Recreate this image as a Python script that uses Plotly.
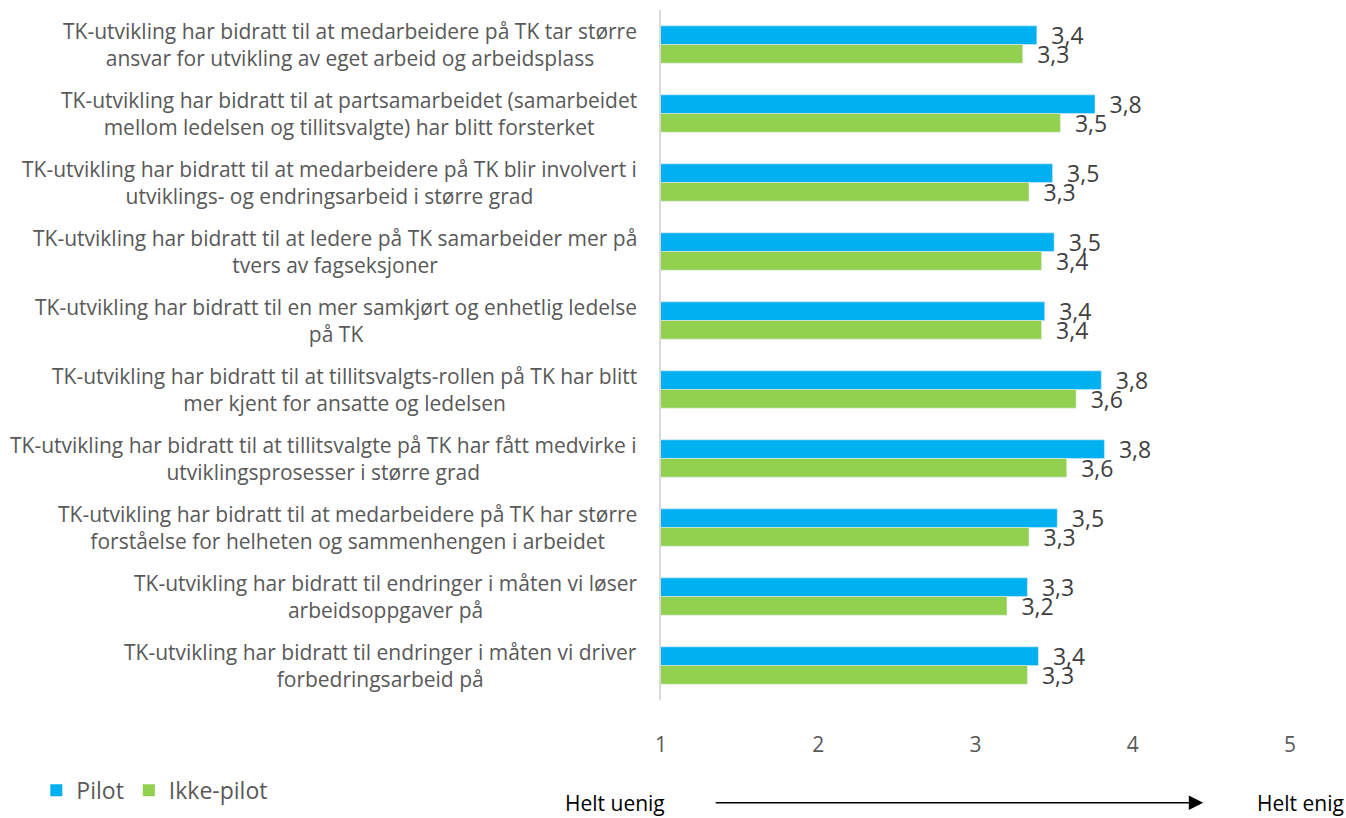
import plotly.graph_objects as go

# Survey statements (line breaks as displayed)
statements = [
    "TK-utvikling har bidratt til at medarbeidere på TK tar større<br>ansvar for utvikling av eget arbeid og arbeidsplass",
    "TK-utvikling har bidratt til at partsamarbeidet (samarbeidet<br>mellom ledelsen og tillitsvalgte) har blitt forsterket",
    "TK-utvikling har bidratt til at medarbeidere på TK blir involvert i<br>utviklings- og endringsarbeid i større grad",
    "TK-utvikling har bidratt til at ledere på TK samarbeider mer på<br>tvers av fagseksjoner",
    "TK-utvikling har bidratt til en mer samkjørt og enhetlig ledelse<br>på TK",
    "TK-utvikling har bidratt til at tillitsvalgts-rollen på TK har blitt<br>mer kjent for ansatte og ledelsen",
    "TK-utvikling har bidratt til at tillitsvalgte på TK har fått medvirke i<br>utviklingsprosesser i større grad",
    "TK-utvikling har bidratt til at medarbeidere på TK har større<br>forståelse for helheten og sammenhengen i arbeidet",
    "TK-utvikling har bidratt til endringer i måten vi løser<br>arbeidsoppgaver på",
    "TK-utvikling har bidratt til endringer i måten vi driver<br>forbedringsarbeid på",
]

# Mean scores (1 = helt uenig, 5 = helt enig)
pilot = [3.39, 3.76, 3.49, 3.50, 3.44, 3.80, 3.82, 3.52, 3.33, 3.40]
ikke_pilot = [3.30, 3.54, 3.34, 3.42, 3.42, 3.64, 3.58, 3.34, 3.20, 3.33]

series_names = ["Pilot", "Ikke-pilot"]
series_colors = ["#00B0F0", "#92D050"]

x_ticks = [1, 2, 3, 4, 5]

FONT = "'Open Sans', sans-serif"
label_fmt = "\u2002%{x:.1f}"

fig = go.Figure()
for name, vals, col in zip(series_names, [pilot, ikke_pilot], series_colors):
    fig.add_trace(go.Bar(
        name=name, y=statements, x=vals, orientation="h",
        marker=dict(color=col), showlegend=False,
        texttemplate=label_fmt, textposition="outside", constraintext="none",
        cliponaxis=False, textfont=dict(size=23, color="#404040", family=FONT),
    ))

# Legend entries with square swatches
for name, col in zip(series_names, series_colors):
    fig.add_trace(go.Scatter(
        name=name, x=[None], y=[None], mode="markers",
        marker=dict(symbol="square", size=16, color=col),
        showlegend=True,
    ))

annotations = []
# Statement labels, centred lines, right edge just left of the axis
for s in statements:
    annotations.append(dict(
        x=0, xref="paper", y=s, yref="y", xanchor="right", yanchor="middle",
        xshift=-22, text=s, showarrow=False, align="center",
        font=dict(size=21, color="#595959", family=FONT),
    ))

# Scale direction under the axis
annotations.append(dict(
    x=-0.0732, y=-0.149, xref="paper", yref="paper", text="Helt uenig",
    xanchor="center", yanchor="middle", showarrow=False,
    font=dict(size=21, color="#000000", family=FONT),
))
annotations.append(dict(
    x=1.016, y=-0.149, xref="paper", yref="paper", text="Helt enig",
    xanchor="center", yanchor="middle", showarrow=False,
    font=dict(size=21, color="#000000", family=FONT),
))
annotations.append(dict(
    x=0.862, y=-0.149, xref="paper", yref="paper", text="",
    showarrow=True, ax=-489, ay=0, axref="pixel", ayref="pixel",
    arrowhead=2, arrowsize=1.8, arrowwidth=1.6, arrowcolor="#000000",
))

fig.update_layout(
    width=1346, height=818,
    margin=dict(l=661, r=56, t=10, b=118),
    paper_bgcolor="white", plot_bgcolor="white",
    barmode="group", bargap=0.46, bargroupgap=0,
    separators=", ",
    font=dict(family=FONT, color="#595959"),
    showlegend=True,
    legend=dict(
        orientation="h", xref="container", yref="container",
        x=0.027, y=0.034, xanchor="left", yanchor="middle",
        font=dict(size=23, color="#595959", family=FONT),
        itemsizing="constant", traceorder="normal", itemwidth=30,
        tracegroupgap=0,
    ),
    annotations=annotations,
    xaxis=dict(
        range=[1, 5], tickvals=x_ticks, showgrid=False, zeroline=False,
        showline=False, ticks="", ticklabelstandoff=30,
        tickfont=dict(size=21, color="#595959", family=FONT),
    ),
    yaxis=dict(
        autorange="reversed", showticklabels=False, showgrid=False,
        zeroline=False, showline=True, linecolor="#d9d9d9", linewidth=2,
        ticks="",
    ),
)

fig.write_html("out.html")
